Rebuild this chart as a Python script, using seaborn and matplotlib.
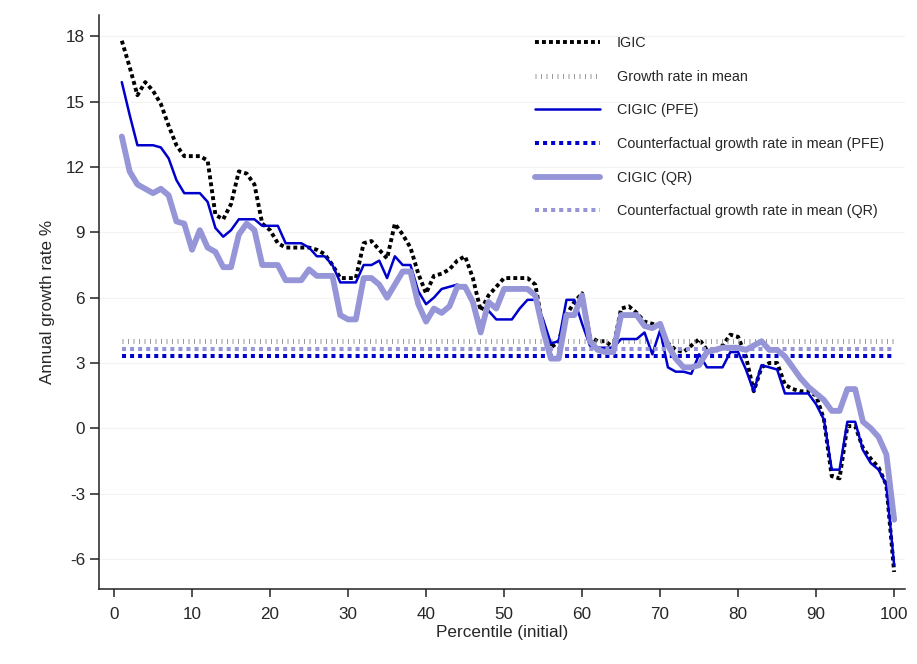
import numpy as np
import pandas as pd
import matplotlib
matplotlib.use("Agg")
import matplotlib.pyplot as plt
import seaborn as sns

# percentiles of the initial distribution
pct = np.arange(1, 101)

# annual growth rates (%)
igic = [17.8, 16.6, 15.3, 15.9, 15.5, 14.9, 13.9, 13.0, 12.5, 12.5,
        12.5, 12.3, 9.8, 9.6, 10.3, 11.8, 11.7, 11.2, 9.4, 9.1,
        8.5, 8.3, 8.3, 8.3, 8.3, 8.2, 8.0, 7.5, 6.9, 6.9,
        6.9, 8.5, 8.6, 8.2, 7.8, 9.4, 8.9, 8.3, 7.1, 6.2,
        7.0, 7.1, 7.3, 7.7, 7.9, 6.9, 5.4, 6.1, 6.5, 6.9,
        6.9, 6.9, 6.9, 6.6, 4.6, 3.7, 4.0, 5.2, 5.8, 6.2,
        4.2, 4.0, 4.0, 3.7, 5.5, 5.6, 5.3, 4.9, 4.8, 4.7,
        3.9, 3.6, 3.5, 3.8, 4.1, 3.6, 3.5, 3.8, 4.3, 4.2,
        3.3, 1.7, 2.8, 3.0, 3.0, 2.0, 1.8, 1.7, 1.7, 1.5,
        0.4, -2.2, -2.3, 0.1, 0.1, -0.9, -1.4, -1.8, -2.6, -6.6]

cigic_pfe = [15.9, 14.4, 13.0, 13.0, 13.0, 12.9, 12.4, 11.4, 10.8, 10.8,
             10.8, 10.4, 9.2, 8.8, 9.1, 9.6, 9.6, 9.6, 9.3, 9.3,
             9.3, 8.5, 8.5, 8.5, 8.3, 7.9, 7.9, 7.5, 6.7, 6.7,
             6.7, 7.5, 7.5, 7.7, 6.9, 7.9, 7.5, 7.5, 6.3, 5.7,
             6.0, 6.4, 6.5, 6.6, 6.4, 5.7, 4.8, 5.4, 5.0, 5.0,
             5.0, 5.5, 5.9, 5.9, 5.0, 3.9, 4.0, 5.9, 5.9, 4.8,
             3.8, 3.7, 3.7, 3.7, 4.1, 4.1, 4.1, 4.4, 3.4, 4.5,
             2.8, 2.6, 2.6, 2.5, 3.4, 2.8, 2.8, 2.8, 3.5, 3.5,
             2.7, 1.7, 2.9, 2.8, 2.7, 1.6, 1.6, 1.6, 1.6, 1.1,
             0.4, -1.9, -1.9, 0.3, 0.3, -1.0, -1.6, -1.9, -2.6, -6.3]

cigic_qr = [13.4, 11.8, 11.2, 11.0, 10.8, 11.0, 10.7, 9.5, 9.4, 8.2,
            9.1, 8.3, 8.1, 7.4, 7.4, 8.9, 9.4, 9.1, 7.5, 7.5,
            7.5, 6.8, 6.8, 6.8, 7.3, 7.0, 7.0, 7.0, 5.2, 5.0,
            5.0, 6.9, 6.9, 6.6, 6.0, 6.6, 7.2, 7.2, 5.7, 4.9,
            5.5, 5.3, 5.6, 6.5, 6.5, 5.8, 4.4, 5.8, 5.5, 6.4,
            6.4, 6.4, 6.4, 6.1, 4.5, 3.2, 3.2, 5.2, 5.2, 6.1,
            4.0, 3.6, 3.5, 3.5, 5.2, 5.2, 5.2, 4.7, 4.6, 4.8,
            3.8, 3.2, 2.8, 2.8, 2.9, 3.5, 3.6, 3.7, 3.7, 3.7,
            3.6, 3.8, 4.0, 3.6, 3.6, 3.3, 2.8, 2.3, 1.9, 1.6,
            1.3, 0.8, 0.8, 1.8, 1.8, 0.3, 0.0, -0.4, -1.2, -4.2]

mean_growth = 4.0
cf_mean_pfe = 3.3
cf_mean_qr = 3.65

df = pd.DataFrame({"pct": pct, "igic": igic, "pfe": cigic_pfe, "qr": cigic_qr,
                   "mean": mean_growth, "cf_pfe": cf_mean_pfe, "cf_qr": cf_mean_qr})

sns.set_style("white")
plt.rcParams["font.family"] = ["Liberation Sans", "DejaVu Sans"]
plt.rcParams["axes.unicode_minus"] = False

fig = plt.figure(figsize=(9.17, 6.64), dpi=100)
ax = fig.add_axes([0.108, 0.113, 0.879, 0.864])

blue = "#0000cc"
lilac = "#9595d8"

sns.lineplot(data=df, x="pct", y="igic", ax=ax, color="black", lw=2.8,
             linestyle=(0, (1, 0.8)), label="IGIC")
sns.lineplot(data=df, x="pct", y="mean", ax=ax, color="#9a9a9a", lw=3.6,
             linestyle=(0, (0.2, 0.9)), label="Growth rate in mean")
sns.lineplot(data=df, x="pct", y="pfe", ax=ax, color=blue, lw=1.8,
             label="CIGIC (PFE)")
sns.lineplot(data=df, x="pct", y="cf_pfe", ax=ax, color=blue, lw=2.9,
             linestyle=(0, (1, 1)), label="Counterfactual growth rate in mean (PFE)")
sns.lineplot(data=df, x="pct", y="qr", ax=ax, color=lilac, lw=4.2,
             label="CIGIC (QR)")
sns.lineplot(data=df, x="pct", y="cf_qr", ax=ax, color=lilac, lw=2.9,
             linestyle=(0, (1, 1)), label="Counterfactual growth rate in mean (QR)")

ax.set_xlim(-1.92, 101.4)
ax.set_ylim(-7.38, 18.97)
ax.set_xticks(np.arange(0, 101, 10))
ax.set_yticks(np.arange(-6, 19, 3))
ax.yaxis.grid(True, color="#f3f3f3", lw=0.8)
ax.set_axisbelow(True)
ax.tick_params(axis="y", length=6.5, width=1.1, color="#222222",
               labelsize=12.3, pad=3.5, direction="out", left=True)
ax.tick_params(axis="x", length=5.5, width=1.1, color="#222222",
               labelsize=12.3, pad=7.5, direction="out", bottom=True)
for side in ["top", "right"]:
    ax.spines[side].set_visible(False)
for side in ["left", "bottom"]:
    ax.spines[side].set_color("#222222")
    ax.spines[side].set_linewidth(1.1)

ax.set_xlabel("Percentile (initial)", fontsize=12.3, labelpad=2.5)
ax.set_ylabel("Annual growth rate %", fontsize=12.3, labelpad=8)

ax.legend(loc="upper left", bbox_to_anchor=(535 / 917, 1 - 36 / 664),
          bbox_transform=fig.transFigure, frameon=False, fontsize=10.4,
          handlelength=4.5, handletextpad=1.18, labelspacing=1.36,
          borderpad=0, borderaxespad=0)

fig.savefig("out.png", dpi=100)
